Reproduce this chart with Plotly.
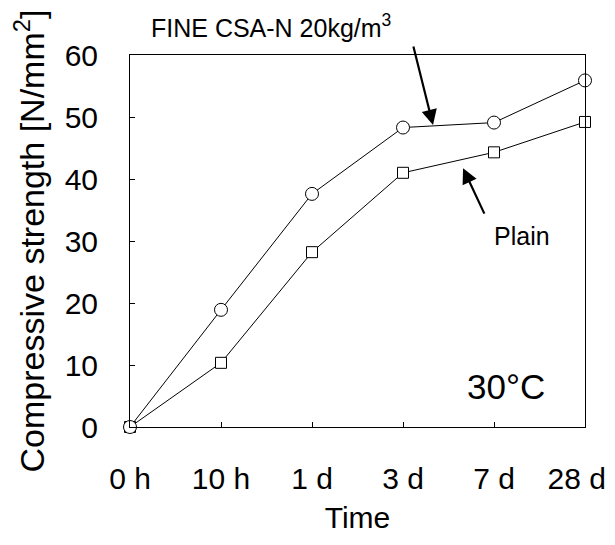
import plotly.graph_objects as go

categories = ["0 h", "10 h", "1 d", "3 d", "7 d", "28 d"]
fine_csa = [0, 18.9, 37.6, 48.3, 49.1, 55.9]
plain = [0, 10.35, 28.2, 41.0, 44.3, 49.2]
y_ticks = [0, 10, 20, 30, 40, 50, 60]

FONT = "Liberation Sans, Arial, sans-serif"
xpos = list(range(len(categories)))
# pad the last label so it stays inside the visible page
tick_text = categories[:-1] + [categories[-1] + "\u00a0\u00a0"]

fig = go.Figure()
fig.add_trace(go.Scatter(
    x=xpos, y=plain, mode="lines+markers", name="Plain",
    line=dict(color="black", width=1),
    marker=dict(symbol="square", size=11, color="white", line=dict(color="black", width=1)),
    cliponaxis=False, showlegend=False))
fig.add_trace(go.Scatter(
    x=xpos, y=fine_csa, mode="lines+markers", name="FINE CSA-N 20kg/m3",
    line=dict(color="black", width=1),
    marker=dict(symbol="circle", size=13, color="white", line=dict(color="black", width=1)),
    cliponaxis=False, showlegend=False))

fig.update_layout(
    width=607, height=529,
    margin=dict(l=122, r=30, t=47, b=110, autoexpand=False),
    paper_bgcolor="white", plot_bgcolor="white",
    font=dict(family=FONT, color="black"),
    xaxis=dict(
        range=[0, 5], tickvals=xpos, ticktext=tick_text,
        ticks="inside", ticklen=5, tickcolor="black", tickwidth=1,
        showline=True, linecolor="black", linewidth=1, mirror=True,
        showgrid=False, zeroline=False, automargin=False,
        tickfont=dict(size=30, family=FONT, color="black"),
        ticklabelstandoff=25, ticklabeloverflow="allow",
        title=dict(text="Time", font=dict(size=30, family=FONT, color="black"), standoff=12),
    ),
    yaxis=dict(
        range=[0, 60], tickvals=y_ticks,
        ticks="inside", ticklen=5, tickcolor="black", tickwidth=1,
        showline=True, linecolor="black", linewidth=1, mirror=True,
        showgrid=False, zeroline=False, automargin=False,
        tickfont=dict(size=30, family=FONT, color="black"),
        ticklabelstandoff=25, ticklabeloverflow="allow",
        title=dict(text="Compressive strength [N/mm<sup>2</sup>]",
                   font=dict(size=34, family=FONT, color="black"), standoff=17),
    ),
)

# labels
fig.add_annotation(x=0.31, y=1.078, xref="paper", yref="paper", xanchor="center", yanchor="middle",
                   text="FINE CSA-N 20kg/m<sup>3</sup>",
                   showarrow=False, font=dict(size=25, family=FONT, color="black"))
fig.add_annotation(x=4.31, y=30.8, xref="x", yref="y", text="Plain",
                   showarrow=False, font=dict(size=25, family=FONT, color="black"))
fig.add_annotation(x=4.13, y=6.5, xref="x", yref="y", text="30°C",
                   showarrow=False, font=dict(size=35, family=FONT, color="black"))

# arrows
fig.add_annotation(x=3.33, y=48.7, xref="x", yref="y", text="", showarrow=True,
                   ax=-20, ay=-80, arrowhead=2, arrowsize=1.4, arrowwidth=2.2,
                   arrowcolor="black", standoff=0)
fig.add_annotation(x=3.66, y=41.75, xref="x", yref="y", text="", showarrow=True,
                   ax=22, ay=47, arrowhead=2, arrowsize=1.4, arrowwidth=2.2,
                   arrowcolor="black", standoff=0)

fig.write_html("out.html")
